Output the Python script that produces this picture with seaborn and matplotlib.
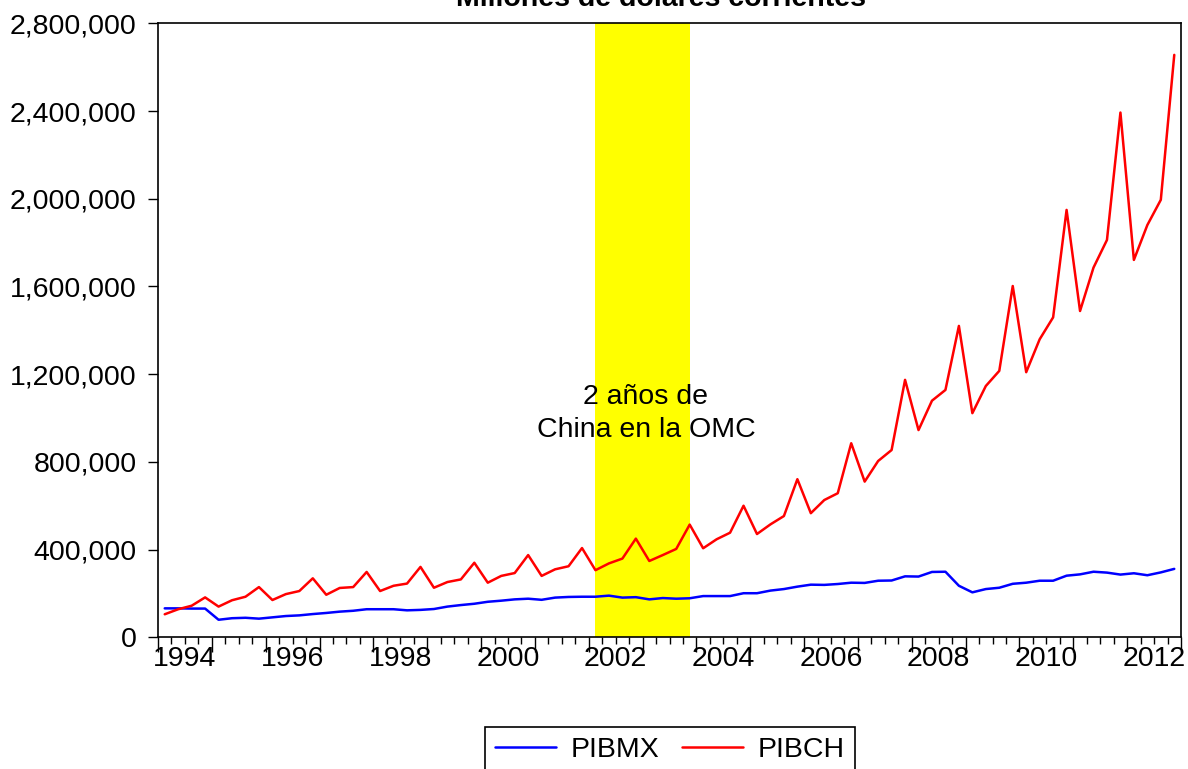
import matplotlib
matplotlib.use("Agg")
import matplotlib.pyplot as plt
from matplotlib.ticker import FuncFormatter
import numpy as np
import pandas as pd
import seaborn as sns

# PIB trimestral, millones de dolares corrientes, 1994Q1 - 2012Q4
years = list(range(1994, 2013))
year_labels = [str(y) for y in range(1994, 2013, 2)]

pibmx = [132000, 132000, 131000, 131000, 80000, 87000, 89000, 85000, 91000, 97000,
         100000, 106000, 111000, 117000, 121000, 128000, 128000, 128000, 123000, 125000,
         129000, 140000, 147000, 153000, 162000, 167000, 173000, 176000, 171000, 181000,
         184000, 185000, 185000, 190000, 181000, 183000, 173000, 179000, 176000, 178000,
         188000, 188000, 188000, 201000, 201000, 213000, 220000, 231000, 240000, 239000,
         243000, 249000, 248000, 258000, 259000, 278000, 277000, 298000, 299000, 235000,
         205000, 220000, 226000, 244000, 249000, 258000, 258000, 281000, 287000, 299000,
         295000, 286000, 292000, 283000, 296000, 312000]

pibch = [105000, 128000, 144000, 182000, 140000, 169000, 185000, 229000, 170000, 197000,
         211000, 269000, 194000, 225000, 229000, 298000, 211000, 235000, 245000, 321000,
         226000, 252000, 264000, 340000, 249000, 280000, 293000, 375000, 280000, 310000,
         324000, 407000, 306000, 337000, 359000, 450000, 348000, 375000, 403000, 514000,
         406000, 447000, 477000, 600000, 471000, 515000, 553000, 721000, 566000, 626000,
         657000, 885000, 710000, 804000, 854000, 1174000, 945000, 1079000, 1128000, 1420000,
         1022000, 1146000, 1215000, 1602000, 1209000, 1359000, 1459000, 1949000, 1488000, 1686000,
         1812000, 2393000, 1721000, 1880000, 1995000, 2656000]

quarters = [f"{y}Q{q}" for y in years for q in range(1, 5)]

sns.set_style("white")
plt.rcParams['font.family'] = ['Liberation Sans', 'DejaVu Sans']
plt.rcParams['text.color'] = 'black'
plt.rcParams['xtick.color'] = 'black'
plt.rcParams['ytick.color'] = 'black'
plt.rcParams['axes.labelcolor'] = 'black'

# each observation sits in the middle of its quarter slot
t = np.arange(len(quarters)) + 0.5
df = pd.DataFrame({'t': np.concatenate([t, t]),
                   'valor': pibmx + pibch,
                   'serie': ['PIBMX'] * len(pibmx) + ['PIBCH'] * len(pibch)})

fig = plt.figure(figsize=(11.88, 7.69), dpi=100)
ax = fig.add_axes([158 / 1188, 1 - 637.3 / 769, (1181 - 158) / 1188, (637.3 - 23.3) / 769])

# shaded period: 2002Q1 - 2003Q4
start = quarters.index("2002Q1") + 0.5
end = quarters.index("2003Q4") + 0.5
ax.axvspan(start, end, color='#ffff00', zorder=0, lw=0)

sns.lineplot(data=df, x='t', y='valor', hue='serie',
             palette={'PIBMX': '#0000ff', 'PIBCH': '#ff0000'},
             linewidth=1.8, ax=ax, legend=True)

ax.text(36.25, 1020000, "2 años de\nChina en la OMC", ha='center', va='center',
        fontsize=20.5, linespacing=1.32, color='black')

ax.set_xlim(0, len(quarters))
ax.set_ylim(0, 2800000)
ax.set_xlabel('')
ax.set_ylabel('')

# y axis
ax.set_yticks(np.arange(0, 2800001, 400000))
ax.yaxis.set_major_formatter(FuncFormatter(lambda v, p: f"{int(v):,}"))
ax.tick_params(axis='y', direction='out', length=7.5, width=1, pad=8, labelsize=20.5,
               left=True, colors='black')

# x axis: long ticks at year boundaries, short ones every quarter
ax.set_xticks(np.arange(0, len(quarters) + 1, 4))
ax.set_xticks(np.arange(0, len(quarters) + 1, 1), minor=True)
ax.tick_params(axis='x', which='major', direction='out', length=10.5, width=1,
               labelbottom=False, bottom=True, colors='black')
ax.tick_params(axis='x', which='minor', direction='out', length=5.3, width=1,
               bottom=True, colors='black')

# year labels centred on each year
sec = ax.secondary_xaxis('bottom')
sec.set_xticks([years.index(int(y)) * 4 + 2 for y in year_labels], labels=year_labels)
sec.tick_params(length=0, pad=6, labelsize=20.5, colors='black')
sec.spines['bottom'].set_visible(False)

for s in ax.spines.values():
    s.set_color('black')
    s.set_linewidth(1.2)

handles, labels = ax.get_legend_handles_labels()
ax.get_legend().remove()
leg = fig.legend(handles, labels, loc='upper center', bbox_to_anchor=(670 / 1188, 1 - 727 / 769),
                 ncol=2, frameon=True, fancybox=False, edgecolor='black', fontsize=20.5,
                 handlelength=2.15, handletextpad=0.5, columnspacing=0.8, borderpad=0.35,
                 borderaxespad=0)
leg.get_frame().set_linewidth(1.2)
leg.get_frame().set_alpha(1)

fig.text(661 / 1188, 1 - 6 / 769, "Millones de dólares corrientes", ha='center', va='baseline',
         fontsize=20.5, fontweight='bold', color='black')

fig.savefig('out.png', dpi=100, facecolor='white')
plt.close(fig)
